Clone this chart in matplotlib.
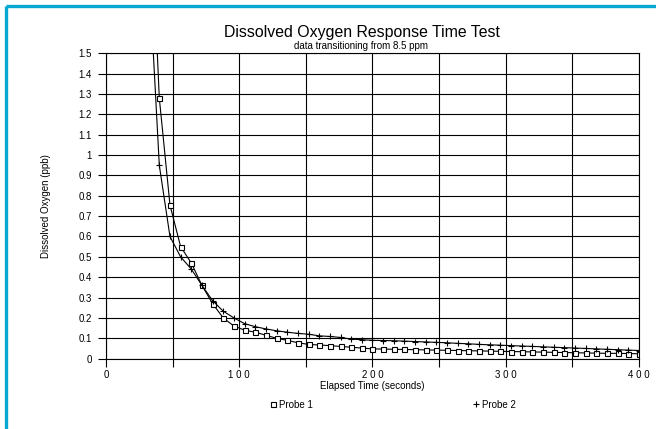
import matplotlib
matplotlib.use('Agg')
import matplotlib.pyplot as plt
from matplotlib.lines import Line2D

# data (time in seconds, DO in ppb)
elapsed_time = [32, 40, 48, 56, 64, 72, 80, 88, 96, 104, 112, 120, 128, 136, 144,
                152, 160, 168, 176, 184, 192, 200, 208, 216, 224, 232, 240, 248,
                256, 264, 272, 280, 288, 296, 304, 312, 320, 328, 336, 344, 352,
                360, 368, 376, 384, 392, 400]

probe_1 = [2.45, 1.28, 0.755, 0.55, 0.47, 0.36, 0.27, 0.20, 0.16, 0.14, 0.13, 0.115,
           0.10, 0.09, 0.078, 0.07, 0.067, 0.064, 0.06, 0.056, 0.052, 0.048, 0.047,
           0.046, 0.045, 0.044, 0.043, 0.042, 0.041, 0.040, 0.039, 0.038, 0.037,
           0.036, 0.035, 0.034, 0.033, 0.032, 0.031, 0.030, 0.029, 0.028, 0.027,
           0.026, 0.026, 0.025, 0.024]

probe_2 = [1.93, 0.95, 0.60, 0.50, 0.44, 0.36, 0.285, 0.233, 0.20, 0.172, 0.157,
           0.146, 0.137, 0.13, 0.124, 0.12, 0.112, 0.109, 0.104, 0.096, 0.093, 0.09,
           0.089, 0.088, 0.086, 0.084, 0.082, 0.08, 0.078, 0.075, 0.073, 0.07, 0.068,
           0.066, 0.064, 0.062, 0.06, 0.058, 0.056, 0.054, 0.052, 0.05, 0.048, 0.046,
           0.044, 0.042, 0.04]

x_ticks = [0, 50, 100, 150, 200, 250, 300, 350, 400]
x_tick_labels = ['0', '', '1 0 0', '', '2 0 0', '', '3 0 0', '', '4 0 0']
y_ticks = [0, 0.1, 0.2, 0.3, 0.4, 0.5, 0.6, 0.7, 0.8, 0.9, 1, 1.1, 1.2, 1.3, 1.4, 1.5]
y_tick_labels = ['0', '0.1', '0.2', '0.3', '0.4', '0.5', '0.6', '0.7', '0.8',
                 '0.9', '1', '1.1', '1.2', '1.3', '1.4', '1.5']

plt.rcParams['font.family'] = ['Liberation Sans', 'DejaVu Sans']

fig = plt.figure(figsize=(6.56, 4.29), dpi=100)
ax = fig.add_axes([0.1616, 0.164, 0.8124, 0.7118])

# blaue rahmenlinie oben und links
fig.add_artist(Line2D([0.0084, 1.0], [0.9860, 0.9860], color='#05a8d3', lw=2.4,
                      transform=fig.transFigure, solid_capstyle='butt'))
fig.add_artist(Line2D([0.0084, 0.0084], [0.0, 0.9860], color='#05a8d3', lw=2.4,
                      transform=fig.transFigure, solid_capstyle='butt'))

ax.plot(elapsed_time, probe_1, color='black', lw=0.8, marker='s', ms=3.6,
        mfc='white', mec='black', mew=0.8)
ax.plot(elapsed_time, probe_2, color='black', lw=0.8, marker='+', ms=4.5,
        mew=0.8)

ax.set_xlim(0, 400)
ax.set_ylim(0, 1.5)

ax.set_xticks(x_ticks)
ax.set_xticklabels(x_tick_labels)
ax.set_yticks(y_ticks)
ax.set_yticklabels(y_tick_labels)
ax.tick_params(direction='out', length=6, width=0.8, labelsize=7)
ax.tick_params(axis='x', pad=2)
ax.tick_params(axis='y', pad=4)
ax.grid(True, color='black', lw=0.8)
ax.set_axisbelow(True)
for s in ax.spines.values():
    s.set_linewidth(0.8)

ax.set_xlabel('Elapsed Time (seconds)', fontsize=7, labelpad=1)
ax.set_ylabel('Dissolved Oxygen (ppb)', fontsize=7, labelpad=20)

fig.text(0.551, 0.925, 'Dissolved Oxygen Response Time Test', ha='center',
         va='center', fontsize=11.4)
fig.text(0.551, 0.893, 'data transitioning from 8.5 ppm', ha='center',
         va='center', fontsize=7)

# legende nur mit markern
handles = [Line2D([], [], ls='none', marker='s', ms=3.6, mfc='white', mec='black', mew=0.8),
           Line2D([], [], ls='none', marker='+', ms=4.5, color='black', mew=0.8)]
fig.legend(handles, ['Probe 1', 'Probe 2'], loc='center',
           bbox_to_anchor=(0.599, 0.057), ncol=2, frameon=False,
           fontsize=7, columnspacing=16.4, handlelength=0.6, handletextpad=0.4)

plt.savefig('out.png', dpi=100)
